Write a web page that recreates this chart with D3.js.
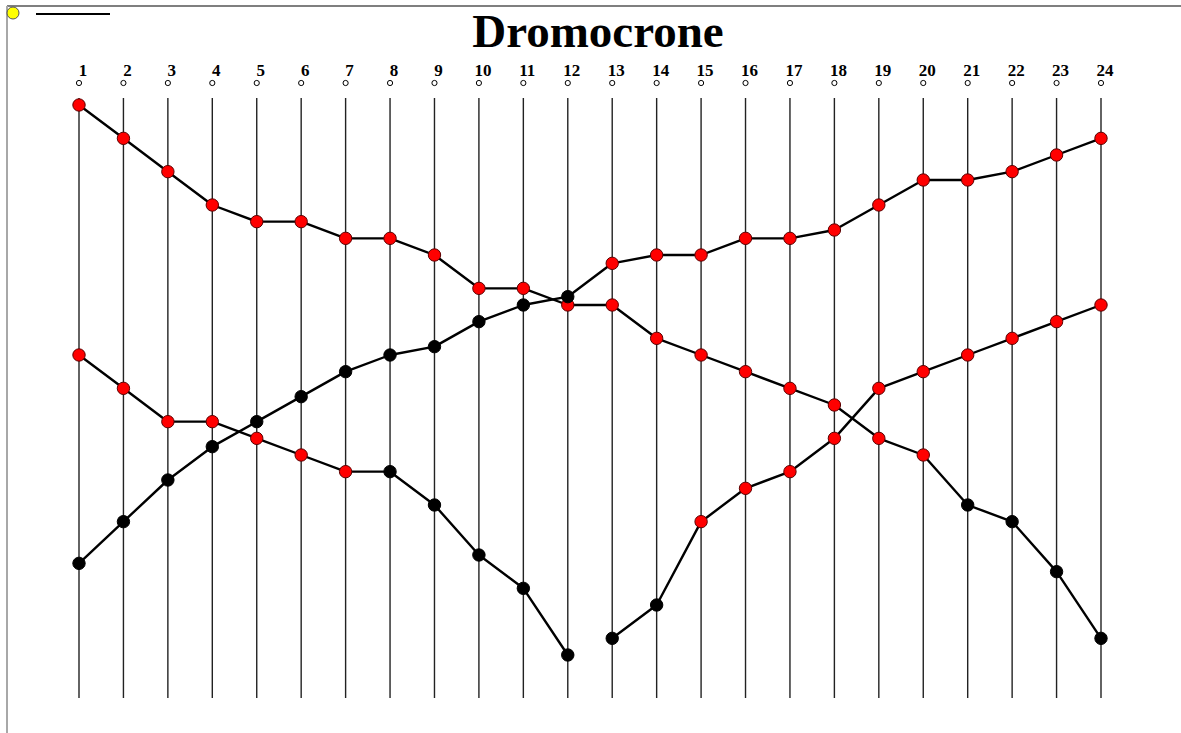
<!DOCTYPE html>
<html>
<head>
<meta charset="utf-8">
<script src="https://cdn.jsdelivr.net/npm/d3@7"></script>
<style>
  html, body { margin: 0; padding: 0; background: #fff; }
  svg { display: block; }
</style>
</head>
<body>
<svg id="chart" width="1181" height="733"></svg>
<script>
// ---- data ----
const title = "Dromocrone";
const traces = d3.range(1, 25);               // geophone / trace numbers 1..24
const traceLabels = traces.map(String);

// curve A: descending from trace 1 (top)  (traces 1..24)
const curveATraces = d3.range(1, 25);
const curveAValues = [36, 34, 32, 30, 29, 29, 28, 28, 27, 25, 25, 24, 24, 22, 21, 20, 19, 18, 16, 15, 12, 11, 8, 4];
const curveAPick   = [1,1,1,1,1,1,1,1,1,1,1,1,1,1,1,1,1,1,1,1,0,0,0,0];

// curve B: rising from trace 1 (bottom) to trace 24
const curveBTraces = d3.range(1, 25);
const curveBValues = [8.5, 11, 13.5, 15.5, 17, 18.5, 20, 21, 21.5, 23, 24, 24.5, 26.5, 27, 27, 28, 28, 28.5, 30, 31.5, 31.5, 32, 33, 34];
const curveBPick   = [0,0,0,0,0,0,0,0,0,0,0,0,1,1,1,1,1,1,1,1,1,1,1,1];

// curve C: lower left, traces 1..12
const curveCTraces = d3.range(1, 13);
const curveCValues = [21, 19, 17, 17, 16, 15, 14, 14, 12, 9, 7, 3];
const curveCPick   = [1,1,1,1,1,1,1,0,0,0,0,0];

// curve D: lower right, traces 13..24
const curveDTraces = d3.range(13, 25);
const curveDValues = [4, 6, 11, 13, 14, 16, 19, 20, 21, 22, 23, 24];
const curveDPick   = [0,0,1,1,1,1,1,1,1,1,1,1];

// ---- drawing ----
const svg = d3.select("#chart");
const W = 1181, H = 733;

const x = d3.scaleLinear().domain([1, 24]).range([79, 1101]);
const y = d3.scaleLinear().domain([0, 36]).range([705, 105]);
const pickColor = d3.scaleOrdinal().domain([0, 1]).range(["#000000", "#ff0000"]);

// window-like border
svg.append("line").attr("x1", 7).attr("x2", W).attr("y1", 6).attr("y2", 6)
  .attr("stroke", "#7f7f7f").attr("stroke-width", 2);
svg.append("line").attr("x1", 7).attr("x2", 7).attr("y1", 6).attr("y2", H)
  .attr("stroke", "#a8a8a8").attr("stroke-width", 2);

// top-left ornaments
svg.append("circle").attr("cx", 13).attr("cy", 13).attr("r", 6)
  .attr("fill", "#ffff00").attr("stroke", "#555").attr("stroke-width", 1);
svg.append("line").attr("x1", 36).attr("x2", 110).attr("y1", 14).attr("y2", 14)
  .attr("stroke", "#000").attr("stroke-width", 2.2);

// title
svg.append("text").attr("x", 598).attr("y", 47)
  .attr("text-anchor", "middle")
  .attr("font-family", "'Liberation Serif', 'Times New Roman', serif")
  .attr("font-weight", "bold").attr("font-size", 47)
  .attr("fill", "#000").text(title);

// trace lines, labels, small geophone circles
const g = svg.append("g");
g.selectAll("line.trace").data(traces).join("line").attr("class", "trace")
  .attr("x1", d => x(d)).attr("x2", d => x(d))
  .attr("y1", 98).attr("y2", 698)
  .attr("stroke", "#222").attr("stroke-width", 1.4);

g.selectAll("text.lab").data(traces).join("text").attr("class", "lab")
  .attr("x", d => x(d) + 4).attr("y", 76)
  .attr("text-anchor", "middle")
  .attr("font-family", "'Liberation Serif', 'Times New Roman', serif")
  .attr("font-weight", "bold").attr("font-size", 17)
  .attr("fill", "#000").text((d, i) => traceLabels[i]);

g.selectAll("circle.geo").data(traces).join("circle").attr("class", "geo")
  .attr("cx", d => x(d)).attr("cy", 83).attr("r", 2.6)
  .attr("fill", "#fff").attr("stroke", "#000").attr("stroke-width", 1);

const curves = [
  { t: curveATraces, v: curveAValues, p: curveAPick },
  { t: curveBTraces, v: curveBValues, p: curveBPick },
  { t: curveCTraces, v: curveCValues, p: curveCPick },
  { t: curveDTraces, v: curveDValues, p: curveDPick }
].map(c => c.t.map((tr, i) => ({ tr, v: c.v[i], p: c.p[i] })));

const line = d3.line().x(d => x(d.tr)).y(d => y(d.v));

svg.append("g").selectAll("path").data(curves).join("path")
  .attr("d", line).attr("fill", "none")
  .attr("stroke", "#000").attr("stroke-width", 2.4)
  .attr("stroke-linejoin", "round");

svg.append("g").selectAll("circle").data(curves.flat()).join("circle")
  .attr("cx", d => x(d.tr)).attr("cy", d => y(d.v)).attr("r", 6.2)
  .attr("fill", d => pickColor(d.p))
  .attr("stroke", d => d.p ? "#5a0000" : "#000").attr("stroke-width", 1);
</script>
</body>
</html>
